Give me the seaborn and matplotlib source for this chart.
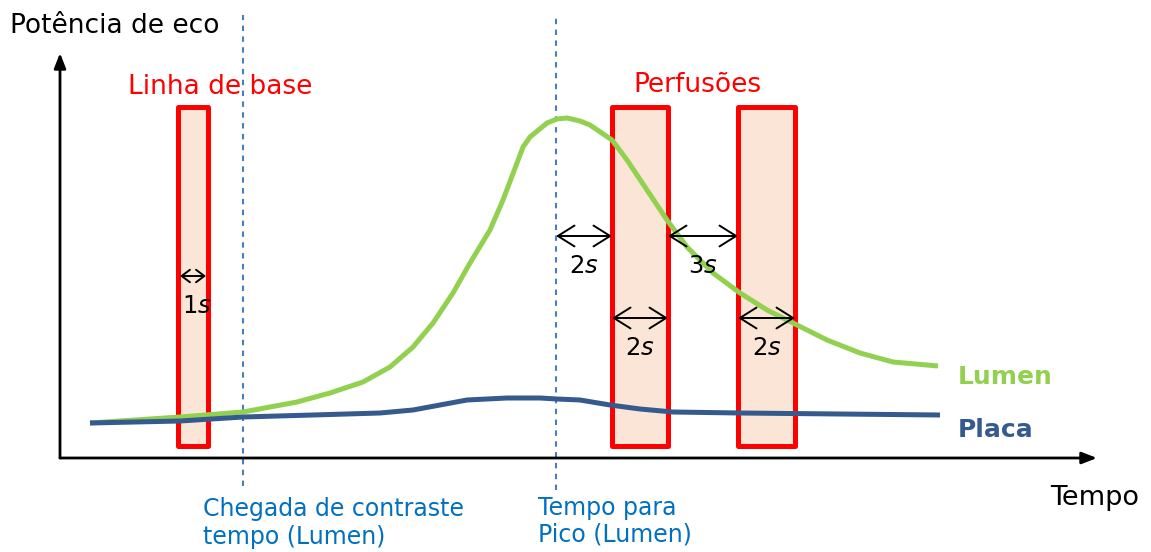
import matplotlib
matplotlib.use("Agg")
import matplotlib.pyplot as plt
from matplotlib.patches import Rectangle
import seaborn as sns
import pandas as pd
import numpy as np

sns.set_style("white")
plt.rcParams['font.family'] = ['DejaVu Sans']
plt.rcParams['text.color'] = 'black'

# tempo / potencia (unidades arbitrarias, origem no canto dos eixos)
lumen_t = [30, 120, 183, 237, 270, 303, 330, 353, 373, 393, 410, 430, 443, 457, 463, 470,
           487, 497, 507, 520, 530, 552, 567, 587, 607, 627, 653, 680, 707, 733, 767, 800, 833, 878]
lumen_p = [35, 41, 46, 56, 65, 76, 91, 111, 135, 165, 195, 228, 258, 295, 311, 321,
           335, 339, 340, 337, 333, 318, 298, 268, 238, 211, 185, 165, 148, 135, 118, 105, 96, 92]
placa_t = [30, 120, 183, 253, 320, 353, 380, 407, 447, 480, 497, 520, 550, 580, 613, 680, 780, 880]
placa_p = [35, 37, 41, 43, 45, 48, 53, 58, 60, 60, 59, 58, 53, 49, 46, 45, 44, 43]

# janelas (linha de base + perfusoes): inicio, fim
janelas = [(118, 148), (552, 608), (678, 735)]
janela_altura = (12, 351)

chegada_t = 183
pico_t = 496

# setas de duracao: (t0, t1, altura, rotulo)
setas = [(120, 146, 182, "1"), (496, 552, 222, "2"), (608, 678, 222, "3"),
         (552, 608, 140, "2"), (678, 735, 140, "2")]

df = pd.DataFrame({
    "Tempo": lumen_t + placa_t,
    "Potencia": lumen_p + placa_p,
    "Serie": ["Lumen"] * len(lumen_t) + ["Placa"] * len(placa_t),
})

fig = plt.figure(figsize=(11.51, 5.52), dpi=100)
ax = fig.add_axes([0, 0, 1, 1])
ax.set_xlim(-60, 1091)
ax.set_ylim(-94, 458)
ax.axis("off")

verde = "#92D050"
azul = "#345A8E"
vermelho = "#FF0000"
azul_txt = "#0070C0"

for t0, t1 in janelas:
    ax.add_patch(Rectangle((t0, janela_altura[0]), t1 - t0, janela_altura[1] - janela_altura[0],
                           facecolor="#FBE5D6", edgecolor=vermelho, linewidth=3.6,
                           joinstyle="round", zorder=1))

sns.lineplot(data=df, x="Tempo", y="Potencia", hue="Serie",
             palette={"Lumen": verde, "Placa": azul}, linewidth=3.6,
             legend=False, ax=ax, zorder=3, sort=False)
for line in ax.lines:
    line.set_solid_capstyle("butt")
    line.set_solid_joinstyle("round")

# eixos com setas
ax.annotate("", xy=(0, 405), xytext=(0, 0),
            arrowprops=dict(arrowstyle="-|>,head_width=0.35,head_length=0.9", color="black", lw=2,
                            shrinkA=0, shrinkB=0))
ax.annotate("", xy=(1037, 0), xytext=(0, 0),
            arrowprops=dict(arrowstyle="-|>,head_width=0.35,head_length=0.9", color="black", lw=2,
                            shrinkA=0, shrinkB=0))

for t, fim in [(chegada_t, -28), (pico_t, -32)]:
    ax.plot([t, t], [fim, 443], ls=(0, (2.6, 2.6)), color="#4A7EBB", lw=1.5, zorder=2)

for t0, t1, h, lab in setas:
    pequena = (t1 - t0) < 40
    estilo = "<->,head_width=0.45,head_length=0.6" if pequena else "<->,head_width=0.75,head_length=1.2"
    ax.annotate("", xy=(t1, h), xytext=(t0, h),
                arrowprops=dict(arrowstyle=estilo, color="black", lw=1.4,
                                shrinkA=0, shrinkB=0), zorder=4)
    ax.text((t0 + t1) / 2 + (4 if pequena else 0), h - 18, lab + r"$\mathit{s}$",
            ha="center", va="top", fontsize=17.5, zorder=4)

ax.text(-50, 432, "Potência de eco", fontsize=19, va="center", ha="left")
ax.text(1035, -40, "Tempo", fontsize=19.5, va="center", ha="center")
ax.text(160, 371, "Linha de base", fontsize=19, color=vermelho, va="center", ha="center")
ax.text(637, 373, "Perfusões", fontsize=19, color=vermelho, va="center", ha="center")
ax.text(898, 81, "Lumen", fontsize=18, fontweight="bold", color=verde, va="center", ha="left")
ax.text(898, 28, "Placa", fontsize=18, fontweight="bold", color=azul, va="center", ha="left")
ax.text(143, -65, "Chegada de contraste\ntempo (Lumen)", fontsize=17, color=azul_txt,
        va="center", ha="left", linespacing=1.25)
ax.text(478, -63, "Tempo para\nPico (Lumen)", fontsize=17, color=azul_txt,
        va="center", ha="left", linespacing=1.15)

fig.savefig("out.png", dpi=100)
